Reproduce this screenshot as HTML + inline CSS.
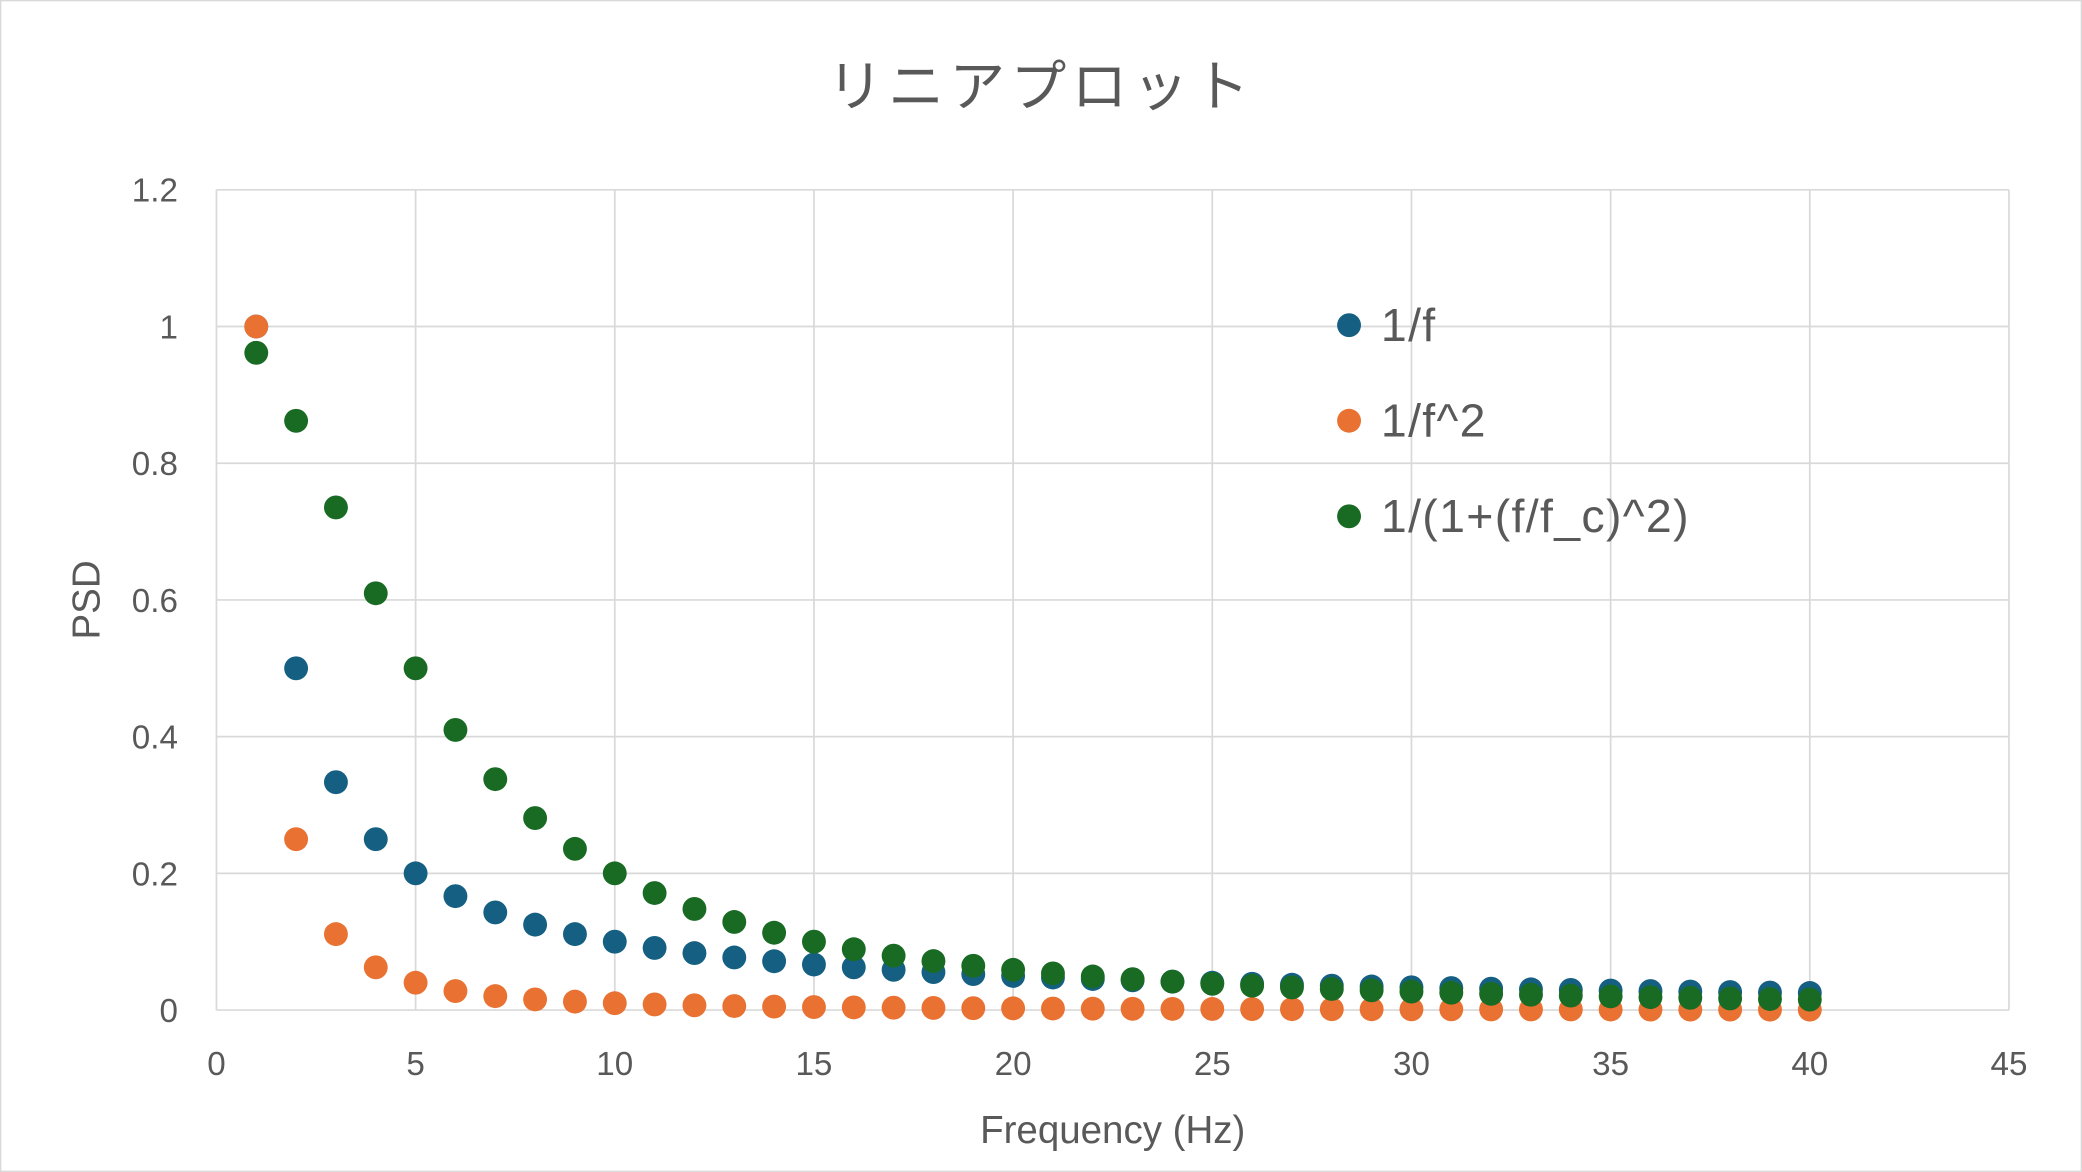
<!DOCTYPE html>
<html><head><meta charset="utf-8"><style>
html,body{margin:0;padding:0;background:#fff;}
svg{display:block;}
text{font-family:"Liberation Sans","Noto Sans CJK JP",sans-serif;fill:#595959;}
</style></head><body>
<svg id="s" width="2082" height="1172" viewBox="0 0 1568 883" preserveAspectRatio="none" xmlns="http://www.w3.org/2000/svg">
<rect x="0.5" y="0.5" width="1567" height="882" fill="#fff" stroke="#d9d9d9" stroke-width="1"/>
<text x="784" y="80" font-size="42" text-anchor="middle" letter-spacing="4">リニアプロット</text>
<g id="grid" stroke="#d9d9d9" stroke-width="1.3"></g>
<g id="lab" font-size="25"></g>
<text x="838" y="861" font-size="29" text-anchor="middle">Frequency (Hz)</text>
<text transform="translate(75,452) rotate(-90)" font-size="29" text-anchor="middle">PSD</text>
<g id="pts"></g>
<g font-size="35" letter-spacing="1">
<circle cx="1016" cy="245" r="9" fill="#156082"/><text x="1040" y="257">1/f</text>
<circle cx="1016" cy="317" r="9" fill="#E97132"/><text x="1040" y="329">1/f^2</text>
<circle cx="1016" cy="389" r="9" fill="#196B24"/><text x="1040" y="401">1/(1+(f/f_c)^2)</text>
</g>
<script>
var NS="http://www.w3.org/2000/svg";
function X(v){return 163+v*30;}function Y(v){return 761-v*515;}
function el(p,t,a,txt){var e=document.createElementNS(NS,t);for(var k in a)e.setAttribute(k,a[k]);if(txt!==undefined)e.textContent=txt;document.getElementById(p).appendChild(e);}
for(var i=0;i<=9;i++){var x=X(i*5);el("grid","line",{x1:x,x2:x,y1:143,y2:761});el("lab","text",{x:x,y:810,"text-anchor":"middle"},String(i*5));}
for(var j=0;j<=6;j++){var v=j*0.2,y=Y(v);el("grid","line",{x1:163,x2:1513,y1:y,y2:y});el("lab","text",{x:134,y:y+9,"text-anchor":"end"},j==0?"0":j==5?"1":(Math.round(v*10)/10).toString());}
var s=[["#156082",function(f){return 1/f}],["#E97132",function(f){return 1/(f*f)}],["#196B24",function(f){return 1/(1+(f/5)*(f/5))}]];
for(var k=0;k<3;k++)for(var f=1;f<=40;f++){el("pts","circle",{cx:X(f),cy:Y(s[k][1](f)),r:9,fill:s[k][0]});}
</script>
</svg>
</body></html>
